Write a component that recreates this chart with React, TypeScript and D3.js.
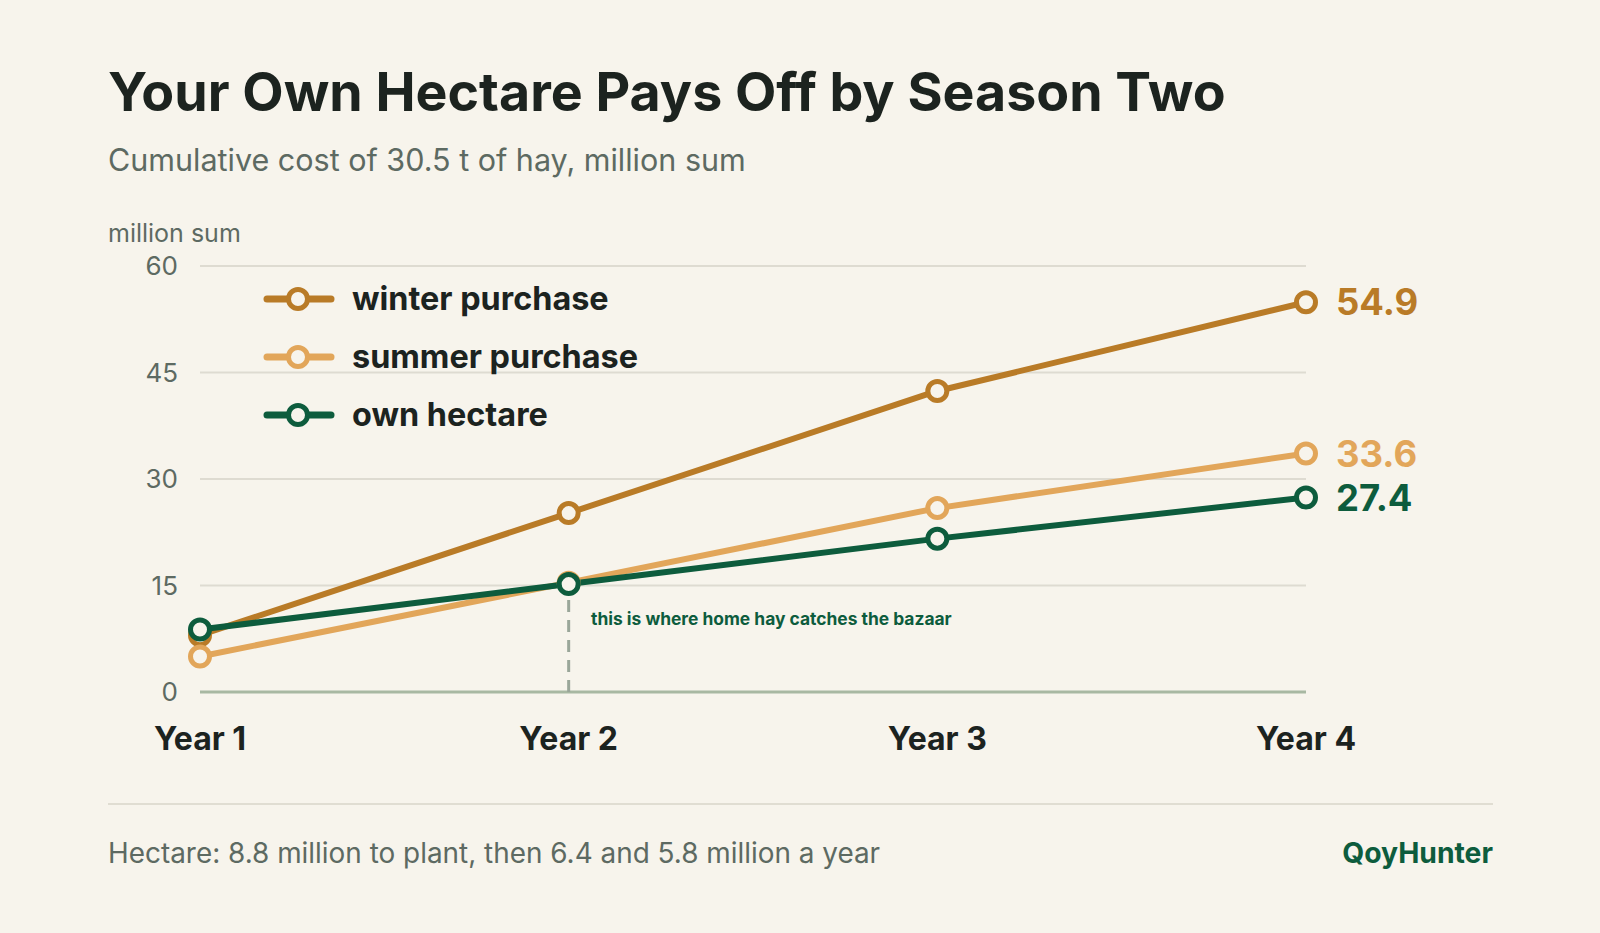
import React from 'react';
import * as d3 from 'd3';

const years = ['Year 1', 'Year 2', 'Year 3', 'Year 4'];
const winterPurchase = [8.0, 25.2, 42.4, 54.9];
const summerPurchase = [5.0, 15.4, 25.9, 33.6];
const ownHectare = [8.8, 15.2, 21.6, 27.4];
const yTicks = [0, 15, 30, 45, 60];

const seriesList = [
  { name: 'winter purchase', values: winterPurchase, color: '#b97b27' },
  { name: 'summer purchase', values: summerPurchase, color: '#e2a65a' },
  { name: 'own hectare', values: ownHectare, color: '#0d5c3d' },
];

const font = 'Inter, "Noto Sans", sans-serif';
const bg = '#f7f4ec';

export default function App() {
  const width = 1600;
  const height = 933;

  const x = d3.scalePoint<string>().domain(years).range([200, 1306]);
  const y = d3.scaleLinear().domain([0, 60]).range([692, 266]);

  const line = d3
    .line<number>()
    .x((_, i) => x(years[i]) as number)
    .y(d => y(d));

  const crossX = x(years[1]) as number;

  return (
    <svg width={width} height={height} style={{ display: 'block', position: 'absolute', left: 0, top: 0, background: bg }}>
      <rect width={width} height={height} fill={bg} />

      <text x={108} y={111} fontFamily={font} fontWeight={700} fontSize={53.7} fill="#1c231f">
        Your Own Hectare Pays Off by Season Two
      </text>
      <text x={108} y={171} fontFamily={font} fontSize={30.5} fill="#5d6a62">
        Cumulative cost of 30.5 t of hay, million sum
      </text>
      <text x={108} y={242} fontFamily={font} fontSize={25} fill="#5d6a62">
        million sum
      </text>

      {/* grid + y labels */}
      {yTicks.map(t => (
        <g key={t}>
          {t > 0 && <line x1={200} x2={1306} y1={y(t)} y2={y(t)} stroke="#dedbd1" strokeWidth={2} />}
          <text x={178} y={y(t)} dy="0.35em" textAnchor="end" fontFamily={font} fontSize={26} fill="#5d6a62">
            {t}
          </text>
        </g>
      ))}
      <line x1={200} x2={1306} y1={y(0)} y2={y(0)} stroke="#a8b8a2" strokeWidth={3} />

      {/* crossover marker */}
      <line x1={crossX} x2={crossX} y1={y(ownHectare[1]) + 16} y2={y(0)} stroke="#9aa699" strokeWidth={3} strokeDasharray="12 8" />
      <text x={591} y={625} fontFamily={font} fontWeight={700} fontSize={17.4} fill="#0d5c3d">
        this is where home hay catches the bazaar
      </text>

      {/* lines */}
      {seriesList.map(s => (
        <path key={s.name} d={line(s.values) as string} fill="none" stroke={s.color} strokeWidth={6} strokeLinejoin="round" />
      ))}
      {seriesList.map(s =>
        s.values.map((v, i) => (
          <circle key={s.name + i} cx={x(years[i]) as number} cy={y(v)} r={9.5} fill={bg} stroke={s.color} strokeWidth={5} />
        ))
      )}

      {/* end labels */}
      {seriesList.map(s => (
        <text
          key={s.name}
          x={1336}
          y={y(s.values[3])}
          dy="0.36em"
          fontFamily={font}
          fontWeight={700}
          fontSize={36.5}
          fill={s.color}
        >
          {s.values[3].toFixed(1)}
        </text>
      ))}

      {/* legend */}
      {seriesList.map((s, i) => {
        const ly = 299 + i * 58;
        return (
          <g key={s.name}>
            <line x1={267} x2={331} y1={ly} y2={ly} stroke={s.color} strokeWidth={7} strokeLinecap="round" />
            <circle cx={298} cy={ly} r={9.5} fill={bg} stroke={s.color} strokeWidth={5} />
            <text x={352} y={ly} dy="0.35em" fontFamily={font} fontWeight={700} fontSize={32.4} fill="#1c231f">
              {s.name}
            </text>
          </g>
        );
      })}

      {/* x labels */}
      {years.map(yr => (
        <text key={yr} x={x(yr) as number} y={750} textAnchor="middle" fontFamily={font} fontWeight={700} fontSize={32} fill="#1c231f">
          {yr}
        </text>
      ))}

      {/* footer */}
      <line x1={108} x2={1493} y1={804} y2={804} stroke="#e0ddd2" strokeWidth={2} />
      <text x={108} y={863} fontFamily={font} fontSize={27.9} fill="#5d6a62">
        Hectare: 8.8 million to plant, then 6.4 and 5.8 million a year
      </text>
      <text x={1493} y={863} textAnchor="end" fontFamily={font} fontWeight={700} fontSize={28.3} fill="#0d5c3d">
        QoyHunter
      </text>
    </svg>
  );
}
